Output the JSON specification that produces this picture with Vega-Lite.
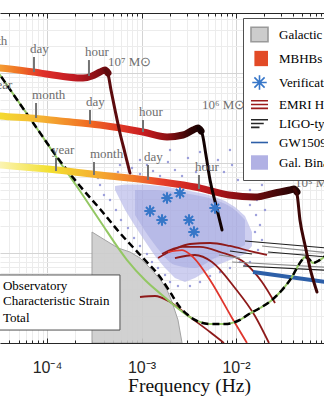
{
"$schema": "https://vega.github.io/schema/vega-lite/v6.json",
"width": 324,
"height": 330,
"autosize": {"type": "none"},
"padding": {"left": 0, "top": 13, "right": 0, "bottom": 57},
"background": "white",
"config": {"view": {"stroke": null}},
"datasets": {
"galfg": [
{"logf": -3.524, "logh": -18.767, "logh2": -20},
{"logf": -3.386, "logh": -18.856, "logh2": -20},
{"logf": -3.249, "logh": -18.944, "logh2": -20},
{"logf": -3.122, "logh": -18.989, "logh2": -20},
{"logf": -3.016, "logh": -19.056, "logh2": -20},
{"logf": -2.910, "logh": -19.167, "logh2": -20},
{"logf": -2.836, "logh": -19.256, "logh2": -20},
{"logf": -2.783, "logh": -19.322, "logh2": -20},
{"logf": -2.730, "logh": -19.411, "logh2": -20},
{"logf": -2.677, "logh": -19.544, "logh2": -20},
{"logf": -2.614, "logh": -19.744, "logh2": -20},
{"logf": -2.571, "logh": -20.0, "logh2": -20}
],
"galcloud": [
{"logf": -3.280, "logh": -18.256, "logh2": -18.300},
{"logf": -3.175, "logh": -18.240, "logh2": -18.520},
{"logf": -3.069, "logh": -18.240, "logh2": -18.700},
{"logf": -2.963, "logh": -18.240, "logh2": -18.870},
{"logf": -2.857, "logh": -18.250, "logh2": -19.033},
{"logf": -2.751, "logh": -18.262, "logh2": -19.167},
{"logf": -2.646, "logh": -18.280, "logh2": -19.278},
{"logf": -2.540, "logh": -18.300, "logh2": -19.322},
{"logf": -2.434, "logh": -18.322, "logh2": -19.278},
{"logf": -2.328, "logh": -18.344, "logh2": -19.211},
{"logf": -2.222, "logh": -18.378, "logh2": -19.144},
{"logf": -2.116, "logh": -18.422, "logh2": -19.100},
{"logf": -2.011, "logh": -18.489, "logh2": -19.056},
{"logf": -1.905, "logh": -18.589, "logh2": -19.011},
{"logf": -1.831, "logh": -18.767, "logh2": -18.922}
],
"galcore": [
{"logf": -3.069, "logh": -18.300, "logh2": -18.578},
{"logf": -2.857, "logh": -18.300, "logh2": -18.911},
{"logf": -2.646, "logh": -18.322, "logh2": -19.133},
{"logf": -2.434, "logh": -18.356, "logh2": -19.167},
{"logf": -2.222, "logh": -18.411, "logh2": -19.056},
{"logf": -2.011, "logh": -18.522, "logh2": -18.967},
{"logf": -1.905, "logh": -18.633, "logh2": -18.911}
],
"galpts": [
{"logf": -3.333, "logh": -18.167}, {"logf": -3.249, "logh": -18.100}, {"logf": -3.175, "logh": -18.144},
{"logf": -3.101, "logh": -18.056}, {"logf": -3.016, "logh": -18.122}, {"logf": -2.942, "logh": -18.022},
{"logf": -2.878, "logh": -18.089}, {"logf": -2.804, "logh": -18.144}, {"logf": -2.720, "logh": -17.989},
{"logf": -2.646, "logh": -18.078}, {"logf": -2.571, "logh": -18.144}, {"logf": -2.508, "logh": -17.944},
{"logf": -2.423, "logh": -18.100}, {"logf": -2.349, "logh": -18.033}, {"logf": -2.275, "logh": -18.167},
{"logf": -2.191, "logh": -17.967}, {"logf": -2.127, "logh": -18.100}, {"logf": -2.042, "logh": -18.022},
{"logf": -1.979, "logh": -18.189}, {"logf": -1.905, "logh": -18.078}, {"logf": -1.831, "logh": -18.144},
{"logf": -1.767, "logh": -17.967}, {"logf": -1.725, "logh": -18.244}, {"logf": -2.381, "logh": -17.878},
{"logf": -2.064, "logh": -17.856}, {"logf": -2.698, "logh": -17.856}, {"logf": -3.016, "logh": -17.967},
{"logf": -3.228, "logh": -18.022}, {"logf": -1.852, "logh": -18.300}, {"logf": -1.778, "logh": -18.411},
{"logf": -1.852, "logh": -18.467}, {"logf": -1.788, "logh": -18.578}, {"logf": -1.746, "logh": -18.689},
{"logf": -1.799, "logh": -18.767}, {"logf": -1.725, "logh": -18.856}, {"logf": -1.767, "logh": -18.967},
{"logf": -1.852, "logh": -19.100}, {"logf": -1.905, "logh": -19.133}, {"logf": -1.958, "logh": -19.100},
{"logf": -1.693, "logh": -18.522}, {"logf": -3.439, "logh": -18.244}, {"logf": -3.397, "logh": -18.356},
{"logf": -3.333, "logh": -18.411}, {"logf": -3.270, "logh": -18.522}, {"logf": -3.217, "logh": -18.633},
{"logf": -3.143, "logh": -18.722}, {"logf": -3.079, "logh": -18.833}, {"logf": -3.016, "logh": -18.922},
{"logf": -2.942, "logh": -19.011}, {"logf": -2.889, "logh": -19.100}, {"logf": -2.825, "logh": -19.167},
{"logf": -2.751, "logh": -19.244}, {"logf": -2.698, "logh": -19.322}, {"logf": -2.614, "logh": -19.367},
{"logf": -2.487, "logh": -19.367}, {"logf": -2.381, "logh": -19.322}, {"logf": -2.275, "logh": -19.256},
{"logf": -2.169, "logh": -19.211}, {"logf": -2.064, "logh": -19.167}, {"logf": -3.460, "logh": -18.167}
],
"emri_dark": [
{"id": "E1", "logf": -2.825, "logh": -19.056}, {"id": "E1", "logf": -2.646, "logh": -18.956}, {"id": "E1", "logf": -2.487, "logh": -18.900}, {"id": "E1", "logf": -2.275, "logh": -18.889}, {"id": "E1", "logf": -2.064, "logh": -18.922}, {"id": "E1", "logf": -1.852, "logh": -18.978}, {"id": "E1", "logf": -1.672, "logh": -19.022},
{"id": "E2", "logf": -2.783, "logh": -19.011}, {"id": "E2", "logf": -2.571, "logh": -18.933}, {"id": "E2", "logf": -2.381, "logh": -18.933}, {"id": "E2", "logf": -2.169, "logh": -18.989}, {"id": "E2", "logf": -1.905, "logh": -19.111}, {"id": "E2", "logf": -1.725, "logh": -19.322}, {"id": "E2", "logf": -1.587, "logh": -19.556},
{"id": "E4", "logf": -2.646, "logh": -19.056}, {"id": "E4", "logf": -2.434, "logh": -19.022}, {"id": "E4", "logf": -2.254, "logh": -19.100}, {"id": "E4", "logf": -2.011, "logh": -19.389}, {"id": "E4", "logf": -1.799, "logh": -19.700}, {"id": "E4", "logf": -1.651, "logh": -20.0},
{"id": "E5", "logf": -3.016, "logh": -19.489}, {"id": "E5", "logf": -2.857, "logh": -19.478}, {"id": "E5", "logf": -2.698, "logh": -19.544}, {"id": "E5", "logf": -2.487, "logh": -19.711}, {"id": "E5", "logf": -2.275, "logh": -19.878}, {"id": "E5", "logf": -2.127, "logh": -20.0}
],
"emri_red": [
{"id": "E3", "logf": -2.720, "logh": -18.989}, {"id": "E3", "logf": -2.571, "logh": -18.967}, {"id": "E3", "logf": -2.444, "logh": -19.056}, {"id": "E3", "logf": -2.275, "logh": -19.300}, {"id": "E3", "logf": -2.042, "logh": -19.722}, {"id": "E3", "logf": -1.884, "logh": -20.0}
],
"ligo_black": [
{"id": "L1", "logf": -1.905, "logh": -18.867}, {"id": "L1", "logf": -0.900, "logh": -18.956},
{"id": "L3", "logf": -1.661, "logh": -18.989}, {"id": "L3", "logf": -0.900, "logh": -19.056},
{"id": "L4", "logf": -1.926, "logh": -19.144}, {"id": "L4", "logf": -0.900, "logh": -19.200},
{"id": "L7", "logf": -2.064, "logh": -18.978}, {"id": "L7", "logf": -1.831, "logh": -19.011}
],
"ligo_gray": [
{"id": "L2", "logf": -1.725, "logh": -18.922}, {"id": "L2", "logf": -0.900, "logh": -19.011},
{"id": "L5", "logf": -2.042, "logh": -19.100}, {"id": "L5", "logf": -0.900, "logh": -19.167},
{"id": "L6", "logf": -2.180, "logh": -19.022}, {"id": "L6", "logf": -1.958, "logh": -19.056}
],
"gw": [
{"logf": -1.820, "logh": -19.211}, {"logf": -0.900, "logh": -19.344}
],
"green": [
{"logf": -4.550, "logh": -16.941}, {"logf": -4.497, "logh": -17.022}, {"logf": -4.095, "logh": -17.633},
{"logf": -3.894, "logh": -17.944}, {"logf": -3.651, "logh": -18.311}, {"logf": -3.439, "logh": -18.644},
{"logf": -3.153, "logh": -19.078}, {"logf": -2.963, "logh": -19.300}, {"logf": -2.783, "logh": -19.467},
{"logf": -2.593, "logh": -19.633}, {"logf": -2.434, "logh": -19.744}, {"logf": -2.275, "logh": -19.789},
{"logf": -2.116, "logh": -19.789}, {"logf": -1.958, "logh": -19.744}, {"logf": -1.862, "logh": -19.678},
{"logf": -1.746, "logh": -19.611}, {"logf": -1.619, "logh": -19.522}, {"logf": -1.513, "logh": -19.411},
{"logf": -1.408, "logh": -19.267}, {"logf": -1.344, "logh": -19.144}, {"logf": -1.302, "logh": -19.078},
{"logf": -1.270, "logh": -19.044}, {"logf": -1.228, "logh": -19.067}, {"logf": -1.185, "logh": -19.111},
{"logf": -1.132, "logh": -19.089}, {"logf": -1.069, "logh": -19.044}, {"logf": -1.005, "logh": -18.967}
],
"total": [
{"logf": -4.550, "logh": -16.941}, {"logf": -4.497, "logh": -17.022}, {"logf": -4.095, "logh": -17.633},
{"logf": -3.894, "logh": -17.933}, {"logf": -3.651, "logh": -18.256}, {"logf": -3.439, "logh": -18.511},
{"logf": -3.228, "logh": -18.778}, {"logf": -2.984, "logh": -19.056}, {"logf": -2.804, "logh": -19.267},
{"logf": -2.698, "logh": -19.433}, {"logf": -2.603, "logh": -19.589}, {"logf": -2.508, "logh": -19.689},
{"logf": -2.434, "logh": -19.744}, {"logf": -2.275, "logh": -19.789}, {"logf": -2.116, "logh": -19.789},
{"logf": -1.958, "logh": -19.744}, {"logf": -1.862, "logh": -19.678}, {"logf": -1.746, "logh": -19.611},
{"logf": -1.619, "logh": -19.522}, {"logf": -1.513, "logh": -19.411}, {"logf": -1.408, "logh": -19.267},
{"logf": -1.344, "logh": -19.144}, {"logf": -1.302, "logh": -19.078}, {"logf": -1.270, "logh": -19.044},
{"logf": -1.228, "logh": -19.067}, {"logf": -1.185, "logh": -19.111}, {"logf": -1.132, "logh": -19.089},
{"logf": -1.069, "logh": -19.044}, {"logf": -1.005, "logh": -18.967}
],
"mbhb7": [
{"logf": -4.550, "logh": -16.939}, {"logf": -4.497, "logh": -16.944}, {"logf": -4.148, "logh": -16.989}, {"logf": -3.788, "logh": -17.044}, {"logf": -3.619, "logh": -17.056}, {"logf": -3.524, "logh": -17.033}, {"logf": -3.439, "logh": -16.989}, {"logf": -3.386, "logh": -16.967}, {"logf": -3.355, "logh": -17.000}
],
"rd7": [
{"logf": -3.386, "logh": -16.967}, {"logf": -3.355, "logh": -17.011}, {"logf": -3.323, "logh": -17.189}, {"logf": -3.280, "logh": -17.411}, {"logf": -3.228, "logh": -17.667}, {"logf": -3.175, "logh": -17.889}, {"logf": -3.122, "logh": -18.111}
],
"mbhb6": [
{"logf": -4.550, "logh": -17.470}, {"logf": -4.497, "logh": -17.478}, {"logf": -4.180, "logh": -17.500}, {"logf": -3.863, "logh": -17.533}, {"logf": -3.439, "logh": -17.578}, {"logf": -2.984, "logh": -17.656}, {"logf": -2.730, "logh": -17.711}, {"logf": -2.561, "logh": -17.689}, {"logf": -2.455, "logh": -17.633}, {"logf": -2.402, "logh": -17.611}, {"logf": -2.370, "logh": -17.644}
],
"rd6": [
{"logf": -2.402, "logh": -17.611}, {"logf": -2.360, "logh": -17.667}, {"logf": -2.318, "logh": -17.911}, {"logf": -2.275, "logh": -18.189}, {"logf": -2.212, "logh": -18.467}, {"logf": -2.148, "logh": -18.744}
],
"mbhb5": [
{"logf": -4.550, "logh": -18.017}, {"logf": -4.497, "logh": -18.022}, {"logf": -3.894, "logh": -18.078}, {"logf": -3.439, "logh": -18.133}, {"logf": -2.783, "logh": -18.211}, {"logf": -2.434, "logh": -18.267}, {"logf": -2.074, "logh": -18.356}, {"logf": -1.799, "logh": -18.378}, {"logf": -1.587, "logh": -18.333}, {"logf": -1.429, "logh": -18.300}, {"logf": -1.386, "logh": -18.289}, {"logf": -1.355, "logh": -18.322}
],
"rd5": [
{"logf": -1.386, "logh": -18.289}, {"logf": -1.355, "logh": -18.344}, {"logf": -1.323, "logh": -18.633}, {"logf": -1.270, "logh": -18.911}, {"logf": -1.217, "logh": -19.167}, {"logf": -1.143, "logh": -19.433}
],
"timeticks": [
{"label": "month", "logf": -4.730, "logh": -16.733, "logh2": -16.956},
{"label": "day", "logf": -4.138, "logh": -16.822, "logh2": -16.989},
{"label": "hour", "logf": -3.556, "logh": -16.856, "logh2": -17.033},
{"label": "year", "logf": -4.561, "logh": -17.222, "logh2": -17.478},
{"label": "month", "logf": -4.116, "logh": -17.333, "logh2": -17.500},
{"label": "day", "logf": -3.545, "logh": -17.411, "logh2": -17.567},
{"label": "hour", "logf": -2.984, "logh": -17.522, "logh2": -17.656},
{"label": "year", "logf": -3.905, "logh": -17.944, "logh2": -18.089},
{"label": "month", "logf": -3.503, "logh": -17.989, "logh2": -18.133},
{"label": "day", "logf": -2.931, "logh": -18.022, "logh2": -18.189},
{"label": "hour", "logf": -2.392, "logh": -18.133, "logh2": -18.289}
],
"masses": [
{"label": "10⁷ M⊙", "logf": -3.355, "logh": -16.922},
{"label": "10⁶ M⊙", "logf": -2.360, "logh": -17.400},
{"label": "10⁵ M⊙", "logf": -1.376, "logh": -18.267}
],
"obskey": [
{"label": "Observatory", "logf": -4.466, "logh": -19.411},
{"label": "Characteristic Strain", "logf": -4.466, "logh": -19.578},
{"label": "Total", "logf": -4.466, "logh": -19.767}
],
"vbs": [
{"vb": "Verification Binaries", "logf": -2.910, "logh": -18.533},
{"vb": "Verification Binaries", "logf": -2.730, "logh": -18.389},
{"vb": "Verification Binaries", "logf": -2.593, "logh": -18.333},
{"vb": "Verification Binaries", "logf": -2.783, "logh": -18.633},
{"vb": "Verification Binaries", "logf": -2.497, "logh": -18.633},
{"vb": "Verification Binaries", "logf": -2.445, "logh": -18.767},
{"vb": "Verification Binaries", "logf": -2.222, "logh": -18.500}
]
},
"encoding": {
"x": {"field": "logf", "type": "quantitative",
 "scale": {"domain": [-4.4974, -1.0688], "nice": false, "zero": false},
 "axis": {"orient": "bottom",
  "values": [-4.398,-4.301,-4.222,-4.155,-4.097,-4.046,-4,-3.699,-3.523,-3.398,-3.301,-3.222,-3.155,-3.097,-3.046,-3,-2.699,-2.523,-2.398,-2.301,-2.222,-2.155,-2.097,-2.046,-2,-1.699,-1.523,-1.398,-1.301,-1.222,-1.155,-1.097,-1.046,-1],
  "grid": true,
  "gridColor": {"condition": {"test": "abs(datum.value - round(datum.value)) < 0.001", "value": "#d4d4d4"}, "value": "#ececec"},
  "gridWidth": 1,
  "domain": true, "domainColor": "#262626", "domainWidth": 1,
  "ticks": true, "tickColor": "#262626", "tickWidth": 1,
  "tickSize": {"condition": {"test": "abs(datum.value - round(datum.value)) < 0.001", "value": -5}, "value": -3},
  "labelExpr": "datum.value === -4 ? '10⁻⁴' : datum.value === -3 ? '10⁻³' : datum.value === -2 ? '10⁻²' : datum.value === -1 ? '10⁻¹' : ''",
  "labelFont": "Liberation Sans", "labelFontSize": 16, "labelColor": "#262626",
  "labelPadding": 21, "labelFlush": false, "labelOverlap": false, "labelBound": false,
  "title": "Frequency (Hz)", "titleFont": "Liberation Serif", "titleFontSize": 19.5, "titleFontWeight": "normal", "titleColor": "#111111",
  "titleX": 189, "titleY": 48, "titleAlign": "center", "titleBaseline": "alphabetic"}},
"y": {"field": "logh", "type": "quantitative",
 "scale": {"domain": [-20, -16.3333], "nice": false, "zero": false},
 "axis": {"orient": "left",
  "values": [-20,-19.699,-19.523,-19.398,-19.301,-19.222,-19.155,-19.097,-19.046,-19,-18.699,-18.523,-18.398,-18.301,-18.222,-18.155,-18.097,-18.046,-18,-17.699,-17.523,-17.398,-17.301,-17.222,-17.155,-17.097,-17.046,-17,-16.699,-16.523,-16.398],
  "grid": true,
  "gridColor": {"condition": {"test": "abs(datum.value - round(datum.value)) < 0.001", "value": "#d4d4d4"}, "value": "#ececec"},
  "domain": false, "ticks": false, "labels": false, "title": null}}
},
"layer": [
{"data": {"name": "galfg"},
 "mark": {"type": "area", "color": "#cdcdcd", "opacity": 0.9, "stroke": "#9a9a9a", "strokeWidth": 1, "clip": true},
 "encoding": {
  "x": {"field": "logf", "type": "quantitative",
   "scale": {"domain": [-4.4974, -1.0688], "nice": false, "zero": false},
   "axis": {"orient": "top",
    "values": [-4.398,-4.301,-4.222,-4.155,-4.097,-4.046,-4,-3.699,-3.523,-3.398,-3.301,-3.222,-3.155,-3.097,-3.046,-3,-2.699,-2.523,-2.398,-2.301,-2.222,-2.155,-2.097,-2.046,-2,-1.699,-1.523,-1.398,-1.301,-1.222,-1.155,-1.097,-1.046],
    "grid": false, "labels": false, "title": null,
    "domain": true, "domainColor": "#262626", "domainWidth": 1,
    "ticks": true, "tickColor": "#262626", "tickWidth": 1,
    "tickSize": {"condition": {"test": "abs(datum.value - round(datum.value)) < 0.001", "value": -5}, "value": -3}}},
  "y2": {"field": "logh2"}}},
{"layer": [
 {"data": {"name": "galcloud"},
  "mark": {"type": "area", "color": "#b9bbe9", "opacity": 0.7, "clip": true},
  "encoding": {"y2": {"field": "logh2"}}},
 {"data": {"name": "galcore"},
  "mark": {"type": "area", "color": "#9c9fdc", "opacity": 0.45, "interpolate": "monotone", "clip": true},
  "encoding": {"y2": {"field": "logh2"}}},
 {"data": {"name": "galpts"},
  "mark": {"type": "circle", "color": "#8d90d6", "size": 6, "opacity": 0.85, "clip": true}},
 {"data": {"name": "emri_dark"},
  "mark": {"type": "line", "color": "#8e1a1a", "strokeWidth": 1.8, "interpolate": "monotone", "clip": true},
  "encoding": {"detail": {"field": "id"}}},
 {"data": {"name": "emri_red"},
  "mark": {"type": "line", "color": "#e0352c", "strokeWidth": 1.8, "interpolate": "monotone", "clip": true},
  "encoding": {"detail": {"field": "id"}}},
 {"data": {"name": "ligo_gray"},
  "mark": {"type": "line", "color": "#8a8a8a", "strokeWidth": 1.2, "clip": true},
  "encoding": {"detail": {"field": "id"}}},
 {"data": {"name": "ligo_black"},
  "mark": {"type": "line", "color": "#1e1e1e", "strokeWidth": 1.1, "clip": true},
  "encoding": {"detail": {"field": "id"}}},
 {"data": {"name": "gw"},
  "mark": {"type": "line", "color": "#2d5fa8", "strokeWidth": 4, "clip": true},
  "encoding": {}},
 {"data": {"name": "green"},
  "mark": {"type": "line", "color": "#93c763", "strokeWidth": 2, "interpolate": "monotone", "clip": true},
  "encoding": {}},
 {"data": {"name": "total"},
  "mark": {"type": "line", "color": "black", "strokeWidth": 2.5, "strokeDash": [7, 4], "interpolate": "monotone", "clip": true},
  "encoding": {}},
 {"data": {"name": "mbhb5"},
  "mark": {"type": "line", "strokeWidth": 7, "strokeCap": "round", "strokeJoin": "round", "interpolate": "monotone", "clip": true,
   "color": {"gradient": "linear", "x1": 0, "y1": 0, "x2": 1, "y2": 0, "stops": [
    {"offset": 0, "color": "#fcf6c0"}, {"offset": 0.18, "color": "#f3e030"}, {"offset": 0.33, "color": "#f5b030"},
    {"offset": 0.45, "color": "#f2802a"}, {"offset": 0.55, "color": "#e8402a"}, {"offset": 0.68, "color": "#c41c20"},
    {"offset": 0.84, "color": "#7a0c10"}, {"offset": 1, "color": "#200303"}]}},
  "encoding": {}},
 {"data": {"name": "mbhb6"},
  "mark": {"type": "line", "strokeWidth": 7, "strokeCap": "round", "strokeJoin": "round", "interpolate": "monotone", "clip": true,
   "color": {"gradient": "linear", "x1": 0, "y1": 0, "x2": 1, "y2": 0, "stops": [
    {"offset": 0, "color": "#f4df30"}, {"offset": 0.22, "color": "#f5b534"}, {"offset": 0.46, "color": "#f06a22"},
    {"offset": 0.6, "color": "#e23a26"}, {"offset": 0.72, "color": "#c81d20"}, {"offset": 0.84, "color": "#8c1014"},
    {"offset": 0.95, "color": "#300505"}, {"offset": 1, "color": "#1a0303"}]}},
  "encoding": {}},
 {"data": {"name": "mbhb7"},
  "mark": {"type": "line", "strokeWidth": 7, "strokeCap": "round", "strokeJoin": "round", "interpolate": "monotone", "clip": true,
   "color": {"gradient": "linear", "x1": 0, "y1": 0, "x2": 1, "y2": 0, "stops": [
    {"offset": 0, "color": "#f5a93a"}, {"offset": 0.2, "color": "#f07424"}, {"offset": 0.42, "color": "#e0302a"},
    {"offset": 0.7, "color": "#c01a22"}, {"offset": 0.9, "color": "#8a1016"}, {"offset": 1, "color": "#640a0e"}]}},
  "encoding": {}},
 {"data": {"name": "rd5"},
  "mark": {"type": "line", "color": "#3d0606", "strokeWidth": 3, "strokeCap": "round", "interpolate": "monotone", "clip": true},
  "encoding": {}},
 {"data": {"name": "rd6"},
  "mark": {"type": "line", "color": "#120202", "strokeWidth": 3, "strokeCap": "round", "interpolate": "monotone", "clip": true},
  "encoding": {}},
 {"data": {"name": "rd7"},
  "mark": {"type": "line", "color": "#5c0b0e", "strokeWidth": 3, "strokeCap": "round", "interpolate": "monotone", "clip": true},
  "encoding": {}},
 {"data": {"name": "timeticks"},
  "mark": {"type": "rule", "color": "#737373", "strokeWidth": 2, "clip": true},
  "encoding": {"y2": {"field": "logh2"}}},
 {"data": {"name": "timeticks"},
  "mark": {"type": "text", "align": "left", "baseline": "alphabetic", "dx": -4, "dy": -4, "font": "Liberation Serif", "fontSize": 13, "color": "#6e6e6e", "clip": true},
  "encoding": {"text": {"field": "label"}}},
 {"data": {"name": "masses"},
  "mark": {"type": "text", "align": "left", "baseline": "alphabetic", "font": "Liberation Serif", "fontSize": 13, "color": "#6e6e6e", "clip": true},
  "encoding": {"text": {"field": "label"}}},
 {"data": {"values": [{"logf": -4.815, "logf2": -3.228, "logh": -19.244, "logh2": -19.856}]},
  "mark": {"type": "rect", "fill": "white", "stroke": "#505050", "strokeWidth": 1, "clip": true},
  "encoding": {"x2": {"field": "logf2"}, "y2": {"field": "logh2"}}},
 {"data": {"name": "obskey"},
  "mark": {"type": "text", "align": "left", "baseline": "alphabetic", "font": "Liberation Serif", "fontSize": 13, "color": "black", "clip": true},
  "encoding": {"text": {"field": "label"}}},
 {"data": {"name": "vbs"},
  "mark": {"type": "point", "filled": true, "size": 180, "strokeWidth": 2, "opacity": 1, "clip": true},
  "encoding": {
   "fill": {"field": "vb", "type": "nominal",
    "scale": {"domain": ["Galactic Foreground", "MBHBs", "Verification Binaries", "EMRI Harmonics", "LIGO-type BHBs", "GW150914", "Gal. Binaries"],
     "range": ["#cccccc", "#e24a26", "transparent", "transparent", "transparent", "transparent", "#b1b1e4"]},
    "legend": {"title": null, "orient": "none", "legendX": 243, "legendY": 5, "padding": 7,
     "fillColor": "white", "strokeColor": "#505050", "symbolSize": 289, "symbolStrokeWidth": 1.6, "symbolOpacity": 1,
     "labelFont": "Liberation Serif", "labelFontSize": 13, "labelColor": "black",
     "labelOffset": 10, "rowPadding": 2, "labelLimit": 400}},
   "stroke": {"field": "vb", "type": "nominal",
    "scale": {"domain": ["Galactic Foreground", "MBHBs", "Verification Binaries", "EMRI Harmonics", "LIGO-type BHBs", "GW150914", "Gal. Binaries"],
     "range": ["#9a9a9a", "transparent", "#3676c8", "#9c1a1a", "#262626", "#2d5fa8", "transparent"]}},
   "shape": {"field": "vb", "type": "nominal",
    "scale": {"domain": ["Galactic Foreground", "MBHBs", "Verification Binaries", "EMRI Harmonics", "LIGO-type BHBs", "GW150914", "Gal. Binaries"],
     "range": ["M-1,-0.85H1V0.85H-1Z", "M-0.6,-0.9H1V0.9H-0.6Z",
      "M0,-0.85V0.85M-0.85,0H0.85M-0.6,-0.6L0.6,0.6M-0.6,0.6L0.6,-0.6",
      "M-1,-0.45H1M-1,0H1M-1,0.45H1", "M-1,-0.45H1M-1,0H0.5M-1,0.45H0", "M-1,0H1", "M-1,-0.85H1V0.85H-1Z"]}}}}
 ]}
],
"resolve": {"axis": {"x": "independent"}}
}
